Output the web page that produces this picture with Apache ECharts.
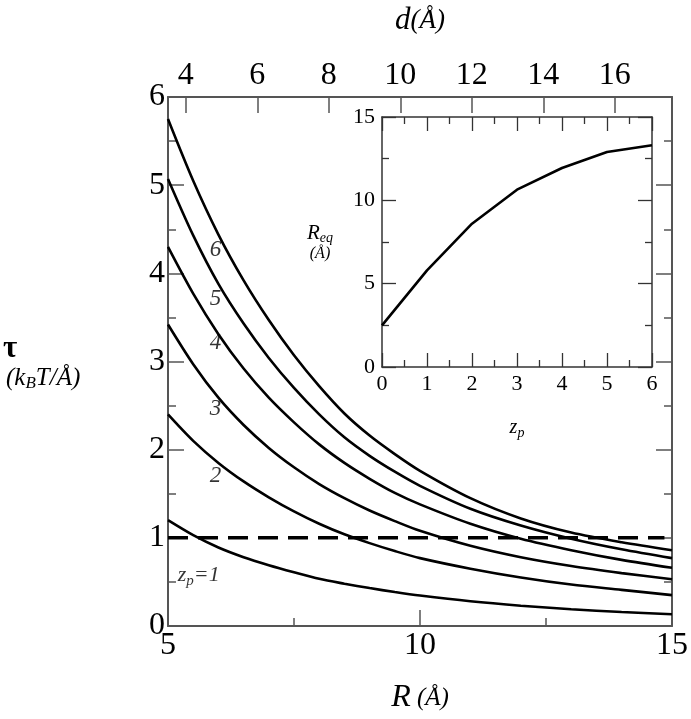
<!DOCTYPE html>
<html><head><meta charset="utf-8">
<script src="https://cdn.jsdelivr.net/npm/echarts@6/dist/echarts.min.js"></script>
<style>html,body{margin:0;padding:0;background:#fff}#c{width:691px;height:719px}</style>
</head><body><div id="c"></div>
<script>
// ---- data ----
const R = [5,5.5,6,6.5,7,7.5,8,8.5,9,9.5,10,11,12,13,14,15];
const tauZ1 = [1.20,1.03,0.89,0.78,0.69,0.61,0.535,0.48,0.43,0.385,0.345,0.28,0.23,0.19,0.158,0.134];
const tauZ2 = [2.40,2.10,1.85,1.64,1.46,1.30,1.16,1.04,0.94,0.85,0.77,0.65,0.55,0.47,0.41,0.35];
const tauZ3 = [3.42,2.97,2.59,2.28,2.02,1.80,1.61,1.45,1.31,1.19,1.08,0.91,0.78,0.68,0.60,0.53];
const tauZ4 = [4.30,3.77,3.31,2.92,2.59,2.31,2.06,1.85,1.67,1.51,1.38,1.16,0.99,0.86,0.75,0.66];
const tauZ5 = [5.07,4.43,3.88,3.43,3.04,2.70,2.40,2.14,1.93,1.75,1.59,1.33,1.14,0.99,0.87,0.77];
const tauZ6 = [5.75,5.05,4.44,3.92,3.47,3.07,2.72,2.41,2.16,1.95,1.76,1.45,1.22,1.06,0.95,0.86];
const dashR = [5, 14.85];
const dashTau = [1, 1];
const curveLabelText = ['6','5','4','3','2','{z|z}{p|p}{z|=1}'];
const curveLabelR = [5.95,5.95,5.95,5.95,5.95,5.62];
const curveLabelTau = [4.26,3.70,3.21,2.46,1.70,0.57];
const zp = [0,1,2,3,4,5,6];
const Req = [2.5,5.8,8.6,10.64,11.94,12.9,13.3];
const dTicks = [4,6,8,10,12,14,16];

// ---- chart ----
const FF = 'Liberation Serif';
const AX = '#555';
const pair = (xs, ys) => xs.map((x,i)=>[x, ys[i]]);
const curves = [tauZ1,tauZ2,tauZ3,tauZ4,tauZ5,tauZ6];

function axisBase(extra){
  return Object.assign({
    type:'value',
    axisLine:{show:true,onZero:false,lineStyle:{color:AX,width:2}},
    axisTick:{show:true,inside:true,length:16,lineStyle:{color:AX,width:1.5}},
    minorTick:{show:true,splitNumber:2,length:8,lineStyle:{color:AX,width:1.5}},
    splitLine:{show:false},
    axisLabel:{color:'#000',fontFamily:FF,fontSize:32}
  }, extra);
}
function insetBase(extra){
  return Object.assign({
    type:'value',
    axisLine:{show:true,onZero:false,lineStyle:{color:'#333',width:1.5}},
    axisTick:{show:true,inside:true,length:14,lineStyle:{color:'#333',width:1.3}},
    minorTick:{show:true,splitNumber:2,length:7,lineStyle:{color:'#333',width:1.3}},
    splitLine:{show:false},
    axisLabel:{color:'#000',fontFamily:FF,fontSize:22}
  }, extra);
}

const series = curves.map((c,i)=>({
  type:'line', xAxisIndex:0, yAxisIndex:0, data:pair(R,c), smooth:0.3,
  symbol:'none', lineStyle:{color:'#000',width:2.6}, z:3
}));
series.push({
  type:'line', xAxisIndex:0, yAxisIndex:0, data:pair(dashR,dashTau), symbol:'none',
  lineStyle:{color:'#000',width:3.5,type:[20,10]}, z:2
});
series.push({
  type:'scatter', xAxisIndex:0, yAxisIndex:0, symbolSize:1, itemStyle:{color:'rgba(0,0,0,0)'},
  data:curveLabelR.map((r,i)=>({value:[r,curveLabelTau[i]], name:curveLabelText[i]})),
  label:{show:true, position:[0,0], align:'center', verticalAlign:'middle', formatter:p=>p.name,
    fontFamily:FF, fontSize:23, fontStyle:'italic', color:'#000', textBorderWidth:0,
    rich:{z:{fontFamily:FF,fontSize:22,fontStyle:'italic',color:'#000',lineHeight:26,verticalAlign:'middle'},
          p:{fontFamily:FF,fontSize:15,fontStyle:'italic',color:'#000',lineHeight:12,verticalAlign:'bottom'}}},
  emphasis:{disabled:true},
  silent:true, z:4
});
series.push({
  type:'line', xAxisIndex:2, yAxisIndex:2, data:pair(zp,Req), symbol:'none',
  lineStyle:{color:'#000',width:2.6}, z:3
});

const option = {
  animation:false,
  backgroundColor:'#fff',
  grid:[
    {left:168, top:82, width:504, height:556, containLabel:false},
    {left:382, top:117, width:270, height:250, containLabel:false}
  ],
  xAxis:[
    axisBase({gridIndex:0, position:'bottom', min:5, max:15, interval:5,
      axisLabel:{color:'#000',fontFamily:FF,fontSize:32,margin:4},
      name:'{r|R}{u| (Å)}', nameLocation:'middle', nameGap:56,
      nameTextStyle:{rich:{r:{fontFamily:FF,fontSize:32,fontStyle:'italic',color:'#000'},
                           u:{fontFamily:FF,fontSize:25,fontStyle:'italic',color:'#000'}}}}),
    axisBase({gridIndex:0, position:'top', min:3.5, max:17.6,
      axisTick:{show:true,inside:true,length:16,customValues:dTicks,lineStyle:{color:AX,width:1.5}},
      minorTick:{show:false},
      axisLabel:{color:'#000',fontFamily:FF,fontSize:32,margin:5,customValues:dTicks},
      name:'{r|d}{u|(Å)}', nameLocation:'middle', nameGap:61,
      nameTextStyle:{rich:{r:{fontFamily:FF,fontSize:31,fontStyle:'italic',color:'#000'},
                           u:{fontFamily:FF,fontSize:27,fontStyle:'italic',color:'#000'}}}}),
    insetBase({gridIndex:1, position:'bottom', min:0, max:6, interval:1,
      axisLabel:{color:'#000',fontFamily:FF,fontSize:22,margin:6},
      name:'{z|z}{p|p}', nameLocation:'middle', nameGap:49,
      nameTextStyle:{rich:{z:{fontFamily:FF,fontSize:20,fontStyle:'italic',color:'#000',lineHeight:24},
                           p:{fontFamily:FF,fontSize:14,fontStyle:'italic',color:'#000',lineHeight:10,verticalAlign:'bottom'}}}}),
    insetBase({gridIndex:1, position:'top', min:0, max:6, interval:1, axisLabel:{show:false}})
  ],
  yAxis:[
    axisBase({gridIndex:0, position:'left', min:0, max:6, interval:1,
      axisLabel:{color:'#000',fontFamily:FF,fontSize:32,margin:3}}),
    axisBase({gridIndex:0, position:'right', min:0, max:6, interval:1, axisLabel:{show:false}}),
    insetBase({gridIndex:1, position:'left', min:0, max:15, interval:5,
      axisLabel:{color:'#000',fontFamily:FF,fontSize:22,margin:7},
      name:'{r|R}{s|eq}\n{u|(Å)}', nameLocation:'middle', nameRotate:0, nameGap:62,
      nameTextStyle:{align:'center',rich:{
        r:{fontFamily:FF,fontSize:21,fontStyle:'italic',color:'#000',lineHeight:24},
        s:{fontFamily:FF,fontSize:14,fontStyle:'italic',color:'#000',lineHeight:10,verticalAlign:'bottom'},
        u:{fontFamily:FF,fontSize:16,fontStyle:'italic',color:'#000',lineHeight:18}}}}),
    insetBase({gridIndex:1, position:'right', min:0, max:15, interval:5, axisLabel:{show:false}})
  ],
  graphic:[
    {type:'text', left:3, top:333, style:{text:'τ', font:'bold 31px "Liberation Serif"', fill:'#000'}},
    {type:'text', left:6, top:366, style:{text:'{a|(k}{b|B}{a|T/Å)}', fill:'#000',
      rich:{a:{fontFamily:FF,fontSize:25,fontStyle:'italic',lineHeight:28,fill:'#000'},
            b:{fontFamily:FF,fontSize:17,fontStyle:'italic',lineHeight:12,verticalAlign:'bottom',fill:'#000'}}}}
  ],
  series
};
const chart = echarts.init(document.getElementById('c'), null, {renderer:'canvas'});
chart.setOption(option);
</script>
</body></html>
